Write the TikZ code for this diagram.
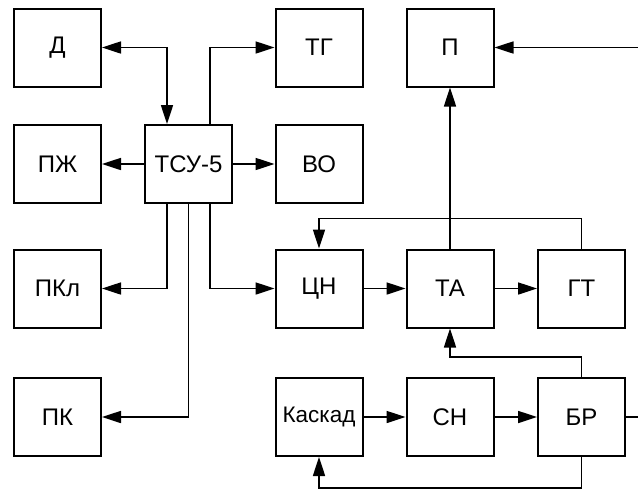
\documentclass[tikz,border=0pt]{standalone}
\usepackage{fontspec}
\setmainfont{Liberation Sans}
\usetikzlibrary{arrows.meta,positioning}

\begin{document}
\begin{tikzpicture}[x=1pt,y=-1pt,
  >={Triangle[length=19pt,width=12pt]},
  blk/.style={draw,line width=2pt,minimum width=87pt,minimum height=78pt,inner sep=0pt,font=\fontsize{24}{24}\selectfont},
  con/.style={line width=1.7pt,->},
  dcon/.style={line width=1.7pt,<->},
  wire/.style={line width=1.7pt}]
  \useasboundingbox (0,0) rectangle (638,488);
  % blocks
  \foreach \n/\x/\y/\t in {d/57.5/47.5/Д,pzh/57.5/164/ПЖ,pkl/57.5/288.5/ПКл,pk/57.5/417/ПК,
      tsu/188.5/164/ТСУ-5,tg/319/47.5/ТГ,vo/319/164/ВО,cn/319/288.5/ЦН,
      p/450/47.5/П,ta/450/288.5/ТА,sn/450/417/СН,gt/581.5/288.5/ГТ,br/581.5/417/БР}
    {\node[blk] (\n) at (\x,\y) {\t};}
  \node[blk,font=\fontsize{22.5}{22.5}\selectfont] (kas) at (319,417) {Каскад};
  \coordinate (inP) at (638,47.5);
  \coordinate (outBR) at (638,417);
  % connections of TSU-5
  \draw[dcon] (d.east) -| ([xshift=-21.5pt]tsu.north);
  \draw[con] ([xshift=21.5pt]tsu.north) |- (tg.west);
  \draw[con] (tsu.west) -- (pzh.east);
  \draw[con] (tsu.east) -- (vo.west);
  \draw[con] ([xshift=-21.5pt]tsu.south) |- (pkl.east);
  \draw[con] (tsu.south) |- (pk.east);
  \draw[con] ([xshift=21.5pt]tsu.south) |- (cn.west);
  % main chain
  \draw[con] (cn.east) -- (ta.west);
  \draw[con] (ta.east) -- (gt.west);
  \draw[con] (ta.north) -- (p.south);
  \draw[con] (inP) -- (p.east);
  \draw[con] (gt.north) -- ++(0,-30) -| (cn.north);
  \draw[con] (kas.east) -- (sn.west);
  \draw[con] (sn.east) -- (br.west);
  \draw[con] (br.north) -- ++(0,-20) -| (ta.south);
  \draw[con] (br.south) -- ++(0,31) -| (kas.south);
  \draw[wire] (br.east) -- (outBR);
\end{tikzpicture}
\end{document}
